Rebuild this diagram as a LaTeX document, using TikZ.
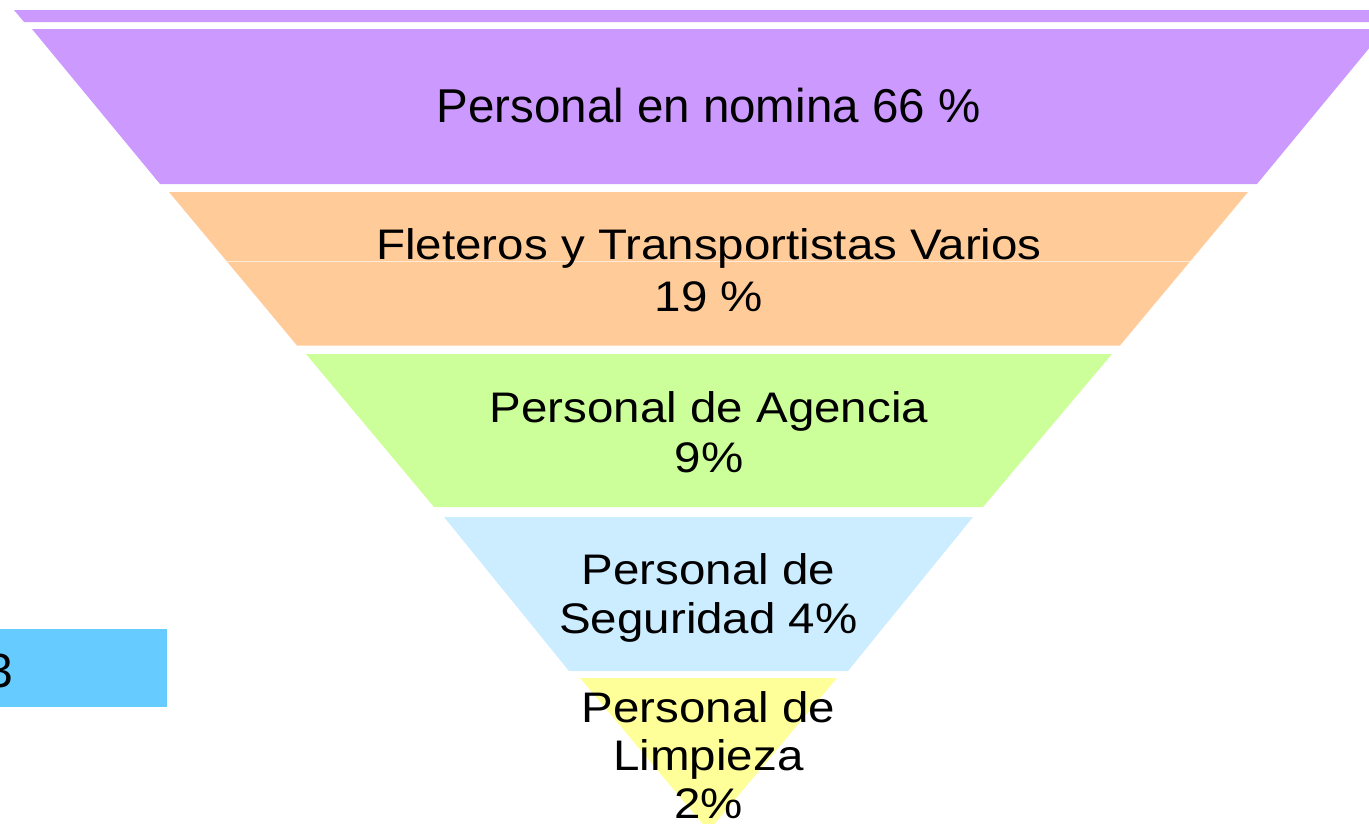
\documentclass[tikz,border=0pt]{standalone}
\usepackage{fontspec}
\setmainfont{Liberation Sans}
\usepackage{graphicx}
\definecolor{cpurple}{HTML}{CC99FF}
\definecolor{corange}{HTML}{FFCC99}
\definecolor{cgreen}{HTML}{CCFF99}
\definecolor{cblue}{HTML}{CCECFF}
\definecolor{cyellow}{HTML}{FFFF99}
\definecolor{cbox}{HTML}{66CCFF}
\newcommand{\vsq}[1]{\scalebox{1}[0.9]{#1}}
\begin{document}
\begin{tikzpicture}[x=1pt,y=-1pt,
  band/.style={fill=#1, draw=none},
  lbl/.style={anchor=base, font=\fontsize{47.5}{50}\selectfont, inner sep=0pt, text=black}]
\useasboundingbox (0,0) rectangle (1369,823);
\clip (0,0) rectangle (1369,823);
% funnel bands
\fill[band=cpurple] (14,10) -- (1403,10) -- (1393,22) -- (24,22) -- cycle;
\fill[band=cpurple] (32,29) -- (1385,29) -- (1257,184) -- (160,184) -- cycle;
\fill[band=corange] (169,192) -- (1248,192) -- (1120,345.5) -- (297,345.5) -- cycle;
\draw[white, opacity=0.6, line width=0.8pt] (227,261) -- (1190,261);
\fill[band=cgreen] (306,354) -- (1112,354) -- (983,507) -- (434,507) -- cycle;
\fill[band=cblue] (444,517) -- (973,517) -- (848,671) -- (569,671) -- cycle;
\fill[band=cyellow] (580,678) -- (837,678) -- (708.5,831) -- cycle;
% labels
\node[lbl] (t1) at (708.5,122) {Personal en nomina 66 \%};
\node[lbl] (t2a) at (709,259) {\vsq{Fleteros y Transportistas Varios}};
\node[lbl] (t2b) at (709,311) {\vsq{19 \%}};
\node[lbl] (t3a) at (709,422) {\vsq{Personal de Agencia}};
\node[lbl] (t3b) at (709,472) {\vsq{9\%}};
\node[lbl] (t4a) at (708.5,584) {\vsq{Personal de}};
\node[lbl] (t4b) at (708.5,633) {\vsq{Seguridad 4\%}};
\node[lbl] (t5a) at (708.5,722) {\vsq{Personal de}};
\node[lbl] (t5b) at (708.5,770) {\vsq{Limpieza}};
\node[lbl] (t5c) at (708.5,818) {\vsq{2\%}};
% side box
\node[fill=cbox, draw=none, inner sep=0pt, minimum width=167pt, minimum height=78pt, anchor=north west] (box) at (0,629) {};
\node[anchor=base east, inner sep=0pt, font=\fontsize{48}{50}\selectfont] (n3) at (13,687) {3};
\end{tikzpicture}
\end{document}
